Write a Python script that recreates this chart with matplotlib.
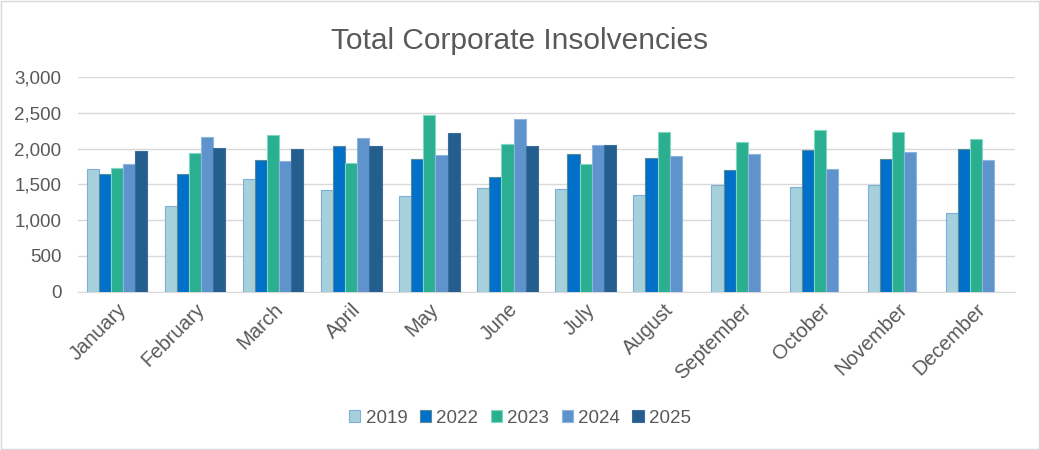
import matplotlib
matplotlib.use('Agg')
import matplotlib.pyplot as plt
import numpy as np
from matplotlib.ticker import FuncFormatter

plt.rcParams['font.family'] = ['Liberation Sans', 'DejaVu Sans']

months = ['January', 'February', 'March', 'April', 'May', 'June',
          'July', 'August', 'September', 'October', 'November', 'December']
years = ['2019', '2022', '2023', '2024', '2025']

v2019 = [1720, 1202, 1570, 1417, 1337, 1454, 1431, 1356, 1496, 1468, 1496, 1104]
v2022 = [1645, 1645, 1845, 2041, 1855, 1603, 1920, 1869, 1706, 1976, 1850, 1990]
v2023 = [1733, 1943, 2185, 1803, 2470, 2069, 1789, 2237, 2092, 2255, 2227, 2130]
v2024 = [1780, 2162, 1822, 2148, 1915, 2419, 2055, 1901, 1929, 1710, 1948, 1845]
v2025 = [1971, 2004, 1999, 2041, 2214, 2032, 2055, np.nan, np.nan, np.nan, np.nan, np.nan]

series = [v2019, v2022, v2023, v2024, v2025]
colors = ['#A6D0DC', '#0070C8', '#2AAF91', '#5E93CC', '#245E8F']
edges = ['#7FAFD6', '#5A8A9A', '#7FD9C0', '#8FB4DD', '#3A6E98']

text_col = '#595959'

fig = plt.figure(figsize=(10.4, 4.5), dpi=100)
ax = fig.add_axes([0.075, 0.352, 0.901, 0.477])

x = np.arange(len(months))
w = 0.155
for i, (vals, c, e, yr) in enumerate(zip(series, colors, edges, years)):
    ax.bar(x + (i - 2) * w, vals, width=w, color=c, edgecolor=e, linewidth=0.8,
           label=yr, zorder=3)

ax.set_xlim(-0.5, 11.5)
ax.set_ylim(0, 3000)
ax.set_yticks(range(0, 3001, 500))
ax.yaxis.set_major_formatter(FuncFormatter(lambda v, p: f'{int(v):,}'))
ax.grid(axis='y', color='#D9D9D9', linewidth=1, zorder=0)
for s in ['top', 'right', 'left']:
    ax.spines[s].set_visible(False)
ax.spines['bottom'].set_color('#D9D9D9')
ax.tick_params(axis='both', length=0, colors=text_col, labelsize=13.5)
ax.tick_params(axis='y', pad=12)
ax.tick_params(axis='x', pad=6)
ax.set_xticks(x)
ax.set_xticklabels(months, rotation=45, ha='right', rotation_mode='anchor', fontsize=14.5)

fig.suptitle('Total Corporate Insolvencies', y=0.94, fontsize=21.5, color=text_col)

leg = fig.legend(loc='center', bbox_to_anchor=(0.5, 0.07), ncol=5, frameon=False,
                 fontsize=13.5, handlelength=0.6, handleheight=0.6, columnspacing=0.65,
                 handletextpad=0.3)
for t in leg.get_texts():
    t.set_color(text_col)

fig.patches.append(plt.Rectangle((0.001, 0.002), 0.998, 0.996, transform=fig.transFigure,
                                 fill=False, edgecolor='#D9D9D9', linewidth=1))

fig.savefig('out.png', dpi=100)
